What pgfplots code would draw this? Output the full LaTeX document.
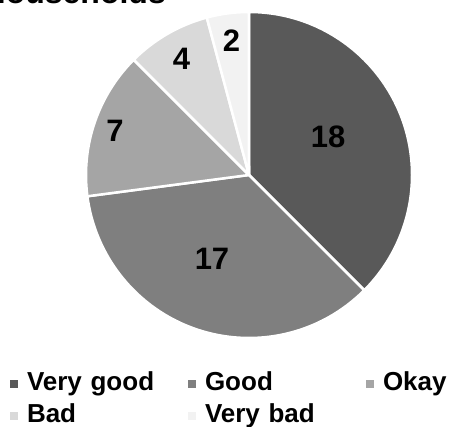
\documentclass[border=0pt]{standalone}
\usepackage{pgfplots}
\usepackage{pgfplotstable}
\pgfplotsset{compat=1.18}
\usepackage{fontspec}
\setmainfont{Liberation Sans}
\definecolor{pie0}{HTML}{595959}
\definecolor{pie1}{HTML}{7F7F7F}
\definecolor{pie2}{HTML}{A5A5A5}
\definecolor{pie3}{HTML}{D9D9D9}
\definecolor{pie4}{HTML}{F2F2F2}
\pgfplotstableread{
label value lx ly
VeryGood 18 0.485 0.233
Good 17 -0.227 -0.515
Okay 7 -0.822 0.273
Bad 4 -0.414 0.712
VeryBad 2 -0.107 0.822
}\piedata
\begin{document}
\begin{tikzpicture}
\useasboundingbox (0,0) rectangle (450pt,427pt);
\clip (0,0) rectangle (450pt,427pt);
\node[anchor=base east, font=\fontsize{32}{38}\selectfont\bfseries, inner sep=0pt] at (166pt,423.5pt) {Households};
\begin{axis}[at={(249pt,252pt)}, anchor=center, scale only axis,
  width=326pt, height=326pt, xmin=-1, xmax=1, ymin=-1, ymax=1,
  hide axis, clip=false,
  legend columns=3,
  legend image code/.code={\fill[#1, draw=none] (0pt,-4pt) rectangle (8pt,4pt);},
  legend style={at={(-0.2331,-0.0926)}, anchor=north west, draw=none, fill=none,
    inner sep=0pt, outer sep=0pt,
    font=\fontsize{26}{33}\selectfont\bfseries,
    nodes={text width=152pt, align=left, inner xsep=9pt, inner ysep=3.5pt,
      text height=19pt, text depth=6pt, anchor=west},
    row sep=0pt, column sep=0pt},
]
\pgfplotstablegetrowsof{\piedata}\pgfmathtruncatemacro\N{\pgfplotsretval-1}
\def\total{0}
\pgfplotsforeachungrouped \i in {0,...,\N}{%
  \pgfplotstablegetelem{\i}{value}\of\piedata
  \pgfmathsetmacro\total{\total+\pgfplotsretval}%
}
\def\curang{90}
\pgfplotsforeachungrouped \i in {0,...,\N}{%
  \pgfplotstablegetelem{\i}{value}\of\piedata \let\val\pgfplotsretval
  \pgfplotstablegetelem{\i}{lx}\of\piedata \let\lx\pgfplotsretval
  \pgfplotstablegetelem{\i}{ly}\of\piedata \let\ly\pgfplotsretval
  \pgfmathsetmacro\endang{\curang-\val/\total*360}%
  \pgfmathtruncatemacro\ival{\val}%
  \edef\temp{\noexpand\fill[pie\i, draw=white, line width=2.5pt, line join=round] (axis cs:0,0) -- (axis cs:{cos(\curang)},{sin(\curang)}) arc[start angle=\curang, end angle=\endang, radius=163pt] -- cycle;
  \noexpand\node[font=\noexpand\fontsize{31}{36}\noexpand\selectfont\noexpand\bfseries] at (axis cs:\lx,\ly) {\ival};}%
  \temp
  \global\let\curang\endang
}
\addlegendimage{fill=pie0}\addlegendentry{Very good}
\addlegendimage{fill=pie1}\addlegendentry{Good}
\addlegendimage{fill=pie2}\addlegendentry{Okay}
\addlegendimage{fill=pie3}\addlegendentry{Bad}
\addlegendimage{fill=pie4}\addlegendentry{Very bad}
\end{axis}
\end{tikzpicture}
\end{document}
